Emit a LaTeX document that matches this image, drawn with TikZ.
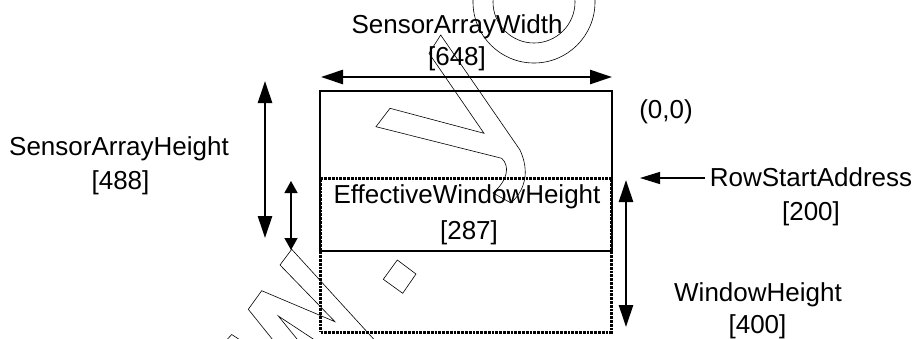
\documentclass[tikz,border=0pt]{standalone}
\usepackage{fontspec}
\setmainfont{Liberation Sans}
\usetikzlibrary{arrows.meta}
\begin{document}
\begin{tikzpicture}[x=1pt,y=-1pt,
  lbl/.style={anchor=base,inner sep=0pt,font=\fontsize{26}{31}\selectfont},
  bigdim/.style={line width=2.6pt,{Triangle[length=22pt,width=14pt]}-{Triangle[length=22pt,width=14pt]}},
  smalldim/.style={line width=1.3pt,{Triangle[length=12pt,width=13pt]}-{Triangle[length=12pt,width=13pt]}},
  ptr/.style={line width=1.3pt,-{Triangle[length=20pt,width=12pt]}},
  solidbox/.style={draw,line width=1.4pt,inner sep=0pt},
  dotbox/.style={draw,line width=3pt,dash pattern=on 2.8pt off 1pt,inner sep=0pt},
  wm/.style={line width=0.6pt,line join=miter}]
\useasboundingbox (0,0) rectangle (916,338);
\clip (0,0) rectangle (916,338);

% watermark outlines
\draw[wm] (534,2) circle[radius=41pt];
\draw[wm] (534,2) circle[radius=61pt];
\draw[wm] (440.7,35) -- (429,53.3) -- (484,133.3) -- (390,108.3) -- (376,126.7) -- (501.7,158.3)
  .. controls (510,166) and (508,180) .. (493,193) -- (511,203)
  .. controls (525,190) and (530,172) .. (520,150) -- cycle;
\draw[wm] (397.3,260) -- (416,274) -- (402.7,293.3) -- (383.3,279.3) -- cycle;
\draw[wm] (291.7,249.3) -- (390,357);
\draw[wm] (291.7,249.3) -- (280,265) -- (335,321.7) -- (261.7,290.7) -- (248.3,309.3) -- (285,355);
\draw[wm] (345,360) -- (278.3,316) -- (310,355);
\draw[wm] (222,345) -- (231.7,334.5) -- (248,345);

% rectangles
\node[solidbox,minimum width=292pt,minimum height=160pt] (array) at (466,171) {};
\node[dotbox,minimum width=291pt,minimum height=154pt] (window) at (466,255) {};

% dimension end points
\coordinate (wL) at (321,77);
\coordinate (wR) at (612,77);
\coordinate (hT) at (265,81);
\coordinate (hB) at (265,238);
\coordinate (eT) at (291,181);
\coordinate (eB) at (291,250);
\coordinate (whT) at (626,180);
\coordinate (whB) at (626,327);
\coordinate (rsTail) at (705,178);
\coordinate (rsTip) at (640,178);

\draw[bigdim] (wL) -- (wR);
\draw[bigdim] (hT) -- (hB);
\draw[smalldim] (eT) -- (eB);
\draw[bigdim] (whT) -- (whB);
\draw[ptr] (rsTail) -- (rsTip);

% labels
\node[lbl] (saw) at (457,33.3) {SensorArrayWidth};
\node[lbl] (sawv) at (457,65) {[648]};
\node[lbl] (sah) at (119,155) {SensorArrayHeight};
\node[lbl] (sahv) at (120.5,189.3) {[488]};
\node[lbl] (ewh) at (467,203.3) {EffectiveWindowHeight};
\node[lbl] (ewhv) at (469,239) {[287]};
\node[lbl] (rsa) at (811,186.7) {RowStartAddress};
\node[lbl] (rsav) at (811,220) {[200]};
\node[lbl] (orig) at (666,118) {(0,0)};
\node[lbl] (wh) at (758,301.7) {WindowHeight};
\node[lbl] (whv) at (757.5,333.3) {[400]};
\end{tikzpicture}
\end{document}
